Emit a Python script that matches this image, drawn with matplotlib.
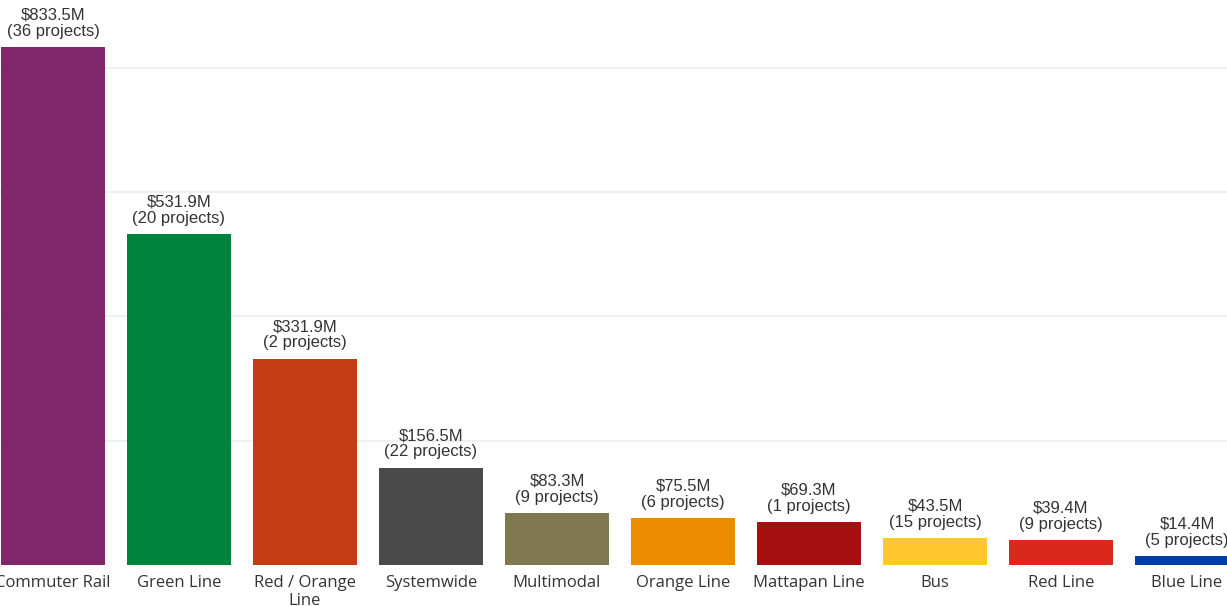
import matplotlib.pyplot as plt
import numpy as np

# ── Datos ────────────────────────────────────────────────────────────────────
categories = ["Commuter Rail", "Green Line", "Red / Orange\nLine", "Systemwide",
              "Multimodal", "Orange Line", "Mattapan Line", "Bus", "Red Line",
              "Blue Line"]
funding_m = [833.5, 531.9, 331.9, 156.5, 83.3, 75.5, 69.3, 43.5, 39.4, 14.4]
n_projects = [36, 20, 2, 22, 9, 6, 1, 15, 9, 5]
colors = ["#80276C", "#00843D", "#C43C12", "#4A4A4A", "#807850", "#ED8B00",
          "#A50F0F", "#FFC72C", "#DA291C", "#003DA5"]
grid_values = [200, 400, 600, 800]

# ── Figura ───────────────────────────────────────────────────────────────────
fig = plt.figure(figsize=(12.27, 6.06), dpi=100)
ax = fig.add_axes([0, 0.0677, 1, 0.9323])

x = np.arange(len(categories))
bar_w = 0.83
ax.bar(x, funding_m, width=bar_w, color=colors, zorder=2)

for gv in grid_values:
    ax.axhline(gv, color="#EDEDED", linewidth=1.2, zorder=1)

for xi, val, n in zip(x, funding_m, n_projects):
    ax.annotate(f"${val:.1f}M\n({n} projects)", (xi, val),
                xytext=(0, 6), textcoords="offset points",
                ha="center", va="bottom", fontsize=12,
                family="Liberation Sans", color="#333333",
                linespacing=1.1, zorder=3, annotation_clip=False)

ax.set_xlim(-53 / 126, (1227 - 53) / 126)
ax.set_ylim(0, 909)
ax.set_xticks(x)
ax.set_xticklabels(categories, fontsize=12, family="Open Sans",
                   color="#333333", linespacing=1.1)
ax.tick_params(axis="x", length=0, pad=7.5)
ax.set_yticks([])
for s in ax.spines.values():
    s.set_visible(False)

plt.savefig("out.png", dpi=100)
